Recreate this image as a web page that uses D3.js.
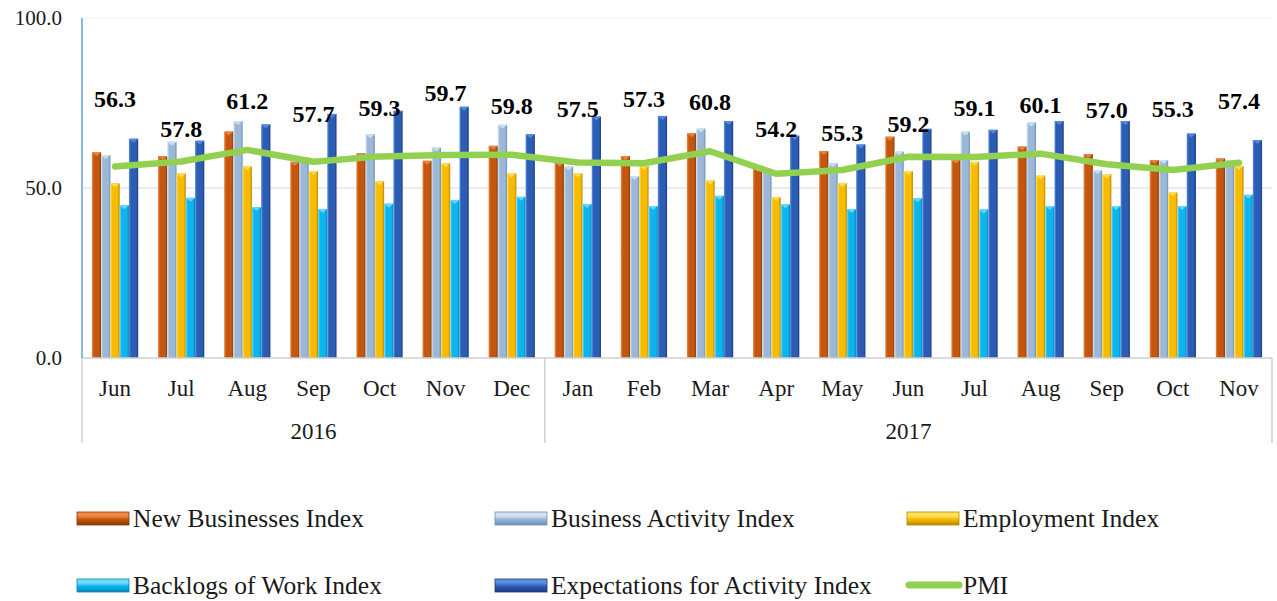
<!DOCTYPE html>
<html>
<head>
<meta charset="utf-8">
<script src="https://cdn.jsdelivr.net/npm/d3@7"></script>
<style>
  html, body { margin: 0; padding: 0; background: #fff; }
  svg { display: block; }
  text { font-family: "Liberation Serif", "Times New Roman", serif; fill: #1a1a1a; }
</style>
</head>
<body>
<svg id="chart" width="1277" height="601"></svg>
<script>
// ---- data ----
const months = ["Jun","Jul","Aug","Sep","Oct","Nov","Dec","Jan","Feb","Mar","Apr","May","Jun","Jul","Aug","Sep","Oct","Nov"];
const yearLabels = ["2016", "2017"];
const yearSpans = [7, 11];
const seriesNames = ["New Businesses Index","Business Activity Index","Employment Index","Backlogs of Work Index","Expectations for Activity Index","PMI"];
const newBusinesses = [60.5,59.4,66.6,57.7,60.2,58.0,62.4,57.5,59.4,66.1,56.0,60.9,65.1,58.3,62.2,60.0,58.2,58.7];
const businessActivity = [59.7,63.6,69.7,59.0,65.8,61.9,68.6,56.3,53.5,67.5,55.5,57.3,60.7,66.6,69.3,55.2,58.2,58.2];
const employment = [51.4,54.3,56.4,55.0,52.0,57.3,54.3,54.3,56.5,52.2,47.3,51.4,55.0,57.7,53.7,54.0,48.7,56.5];
const backlogs = [44.9,47.1,44.4,43.8,45.4,46.5,47.4,45.3,44.7,47.7,45.2,43.8,47.0,43.7,44.7,44.7,44.7,48.0];
const expectations = [64.5,63.9,68.7,71.8,72.7,73.9,65.8,71.0,71.2,69.7,65.4,62.8,67.4,67.1,69.7,69.7,66.0,64.1];
const pmi = [56.3,57.8,61.2,57.7,59.3,59.7,59.8,57.5,57.3,60.8,54.2,55.3,59.2,59.1,60.1,57.0,55.3,57.4];
// height (in index units) at which each PMI data label sits in the original
const pmiLabelLevel = [73.8,65.0,73.2,69.4,71.2,75.6,71.8,70.9,73.8,72.9,65.0,63.8,66.5,71.2,72.1,70.6,70.9,73.2];
const yTicks = [0, 50, 100];

const barSeries = [newBusinesses, businessActivity, employment, backlogs, expectations];
const palette = [
  {light:"#ee8a45", base:"#c4570f", dark:"#8a3a06"},
  {light:"#d3e3f3", base:"#9bb8d8", dark:"#6f8fb6"},
  {light:"#ffe15a", base:"#f7bb00", dark:"#b88800"},
  {light:"#6fdcff", base:"#0db4ee", dark:"#0685b5"},
  {light:"#5b8ee0", base:"#2c5db5", dark:"#1b3b7e"}
];
const pmiColor = "#92d050";

// ---- layout ----
const svg = d3.select("#chart");
const pLeft = 82, pRight = 1272, pTop = 18, pBottom = 358;

const x = d3.scaleBand().domain(d3.range(months.length)).range([pLeft, pRight])
  .paddingInner(0.3).paddingOuter(0.15);
const xs = d3.scaleBand().domain(d3.range(barSeries.length)).range([0, x.bandwidth()]);
const y = d3.scaleLinear().domain([0, 100]).range([pBottom, pTop]);
const cx = i => x(i) + x.bandwidth() / 2;

// gradients
const defs = svg.append("defs");
palette.forEach((p, k) => {
  const g = defs.append("linearGradient").attr("id", "bar" + k)
    .attr("x1", 0).attr("x2", 1).attr("y1", 0).attr("y2", 0);
  g.append("stop").attr("offset", "0").attr("stop-color", p.light);
  g.append("stop").attr("offset", "0.22").attr("stop-color", p.base);
  g.append("stop").attr("offset", "0.78").attr("stop-color", p.base);
  g.append("stop").attr("offset", "1").attr("stop-color", p.dark);
  const v = defs.append("linearGradient").attr("id", "leg" + k)
    .attr("x1", 0).attr("x2", 0).attr("y1", 0).attr("y2", 1);
  v.append("stop").attr("offset", "0").attr("stop-color", p.light);
  v.append("stop").attr("offset", "0.3").attr("stop-color", p.light);
  v.append("stop").attr("offset", "0.55").attr("stop-color", p.base);
  v.append("stop").attr("offset", "1").attr("stop-color", p.dark);
});

// gridlines
svg.append("g").selectAll("line").data(yTicks.filter(t => t > 0)).join("line")
  .attr("x1", pLeft).attr("x2", pRight)
  .attr("y1", d => y(d)).attr("y2", d => y(d))
  .attr("stroke", d => d === 100 ? "#efefef" : "#d9d9d9").attr("stroke-width", 1.2);

// y tick labels
svg.append("g").selectAll("text").data(yTicks).join("text")
  .attr("x", 62).attr("y", d => y(d)).attr("dy", "0.35em")
  .attr("text-anchor", "end").attr("font-size", 21)
  .text(d => d3.format(".1f")(d));

// bars
const bars = svg.append("g");
barSeries.forEach((vals, k) => {
  const g = bars.append("g");
  g.selectAll("rect.b").data(vals).join("rect").attr("class", "b")
    .attr("x", (d, i) => x(i) + xs(k))
    .attr("width", xs.bandwidth())
    .attr("y", d => y(d))
    .attr("height", d => y(0) - y(d))
    .attr("fill", `url(#bar${k})`);
  g.selectAll("path.cap").data(vals).join("path").attr("class", "cap")
    .attr("d", (d, i) => {
      const x0 = x(i) + xs(k), w = xs.bandwidth(), y0 = y(d);
      return `M${x0},${y0}L${x0 + w},${y0}L${x0 + w / 2},${y0 + 4}Z`;
    })
    .attr("fill", palette[k].light).attr("opacity", 0.85);
});

// axis lines
svg.append("line").attr("x1", pLeft).attr("x2", pRight).attr("y1", pBottom).attr("y2", pBottom)
  .attr("stroke", "#d0d0d0").attr("stroke-width", 1.5);
svg.append("line").attr("x1", pLeft).attr("x2", pLeft).attr("y1", pTop).attr("y2", pBottom)
  .attr("stroke", "#6ea6dc").attr("stroke-width", 1.6);

// multi-level category separators
const sepIdx = [0];
yearSpans.reduce((acc, s) => { sepIdx.push(acc + s); return acc + s; }, 0);
const sepX = i => i === 0 ? pLeft : (i >= months.length ? pRight : x(i) - x.step() * x.paddingInner() / 2);
svg.append("g").selectAll("line").data(sepIdx).join("line")
  .attr("x1", d => sepX(d)).attr("x2", d => sepX(d))
  .attr("y1", pBottom).attr("y2", 443)
  .attr("stroke", "#d0d0d0").attr("stroke-width", 1.5);

// month labels
svg.append("g").selectAll("text").data(months).join("text")
  .attr("x", (d, i) => cx(i)).attr("y", 388).attr("dy", "0.35em")
  .attr("text-anchor", "middle").attr("font-size", 23)
  .text(d => d);

// year labels
svg.append("g").selectAll("text").data(yearLabels).join("text")
  .attr("x", (d, j) => (sepX(sepIdx[j]) + sepX(sepIdx[j + 1])) / 2)
  .attr("y", 431).attr("dy", "0.35em")
  .attr("text-anchor", "middle").attr("font-size", 23)
  .text(d => d);

// PMI line
svg.append("path").datum(pmi)
  .attr("d", d3.line().x((d, i) => cx(i)).y(d => y(d)))
  .attr("fill", "none").attr("stroke", pmiColor).attr("stroke-width", 6.5)
  .attr("stroke-linejoin", "round").attr("stroke-linecap", "round");

// PMI data labels
svg.append("g").selectAll("text").data(pmi).join("text")
  .attr("x", (d, i) => cx(i)).attr("y", (d, i) => y(pmiLabelLevel[i]))
  .attr("text-anchor", "middle").attr("font-size", 24).attr("font-weight", "bold")
  .style("fill", "#000")
  .text(d => d3.format(".1f")(d));

// legend
const legCols = [77, 495, 907];
const legRows = [518, 585];
const leg = svg.append("g");
seriesNames.forEach((name, k) => {
  const col = k % 3, row = Math.floor(k / 3);
  const lx = legCols[col], ly = legRows[row];
  if (k < 5) {
    leg.append("rect").attr("x", lx).attr("y", ly - 6).attr("width", 52).attr("height", 13)
      .attr("fill", `url(#leg${k})`).attr("stroke", palette[k].dark).attr("stroke-width", 0.8);
  } else {
    leg.append("line").attr("x1", lx + 2).attr("x2", lx + 52).attr("y1", ly).attr("y2", ly)
      .attr("stroke", pmiColor).attr("stroke-width", 7).attr("stroke-linecap", "round");
  }
  leg.append("text").attr("x", lx + 56).attr("y", ly).attr("dy", "0.35em")
    .attr("font-size", 25.5).text(name);
});
</script>
</body>
</html>
